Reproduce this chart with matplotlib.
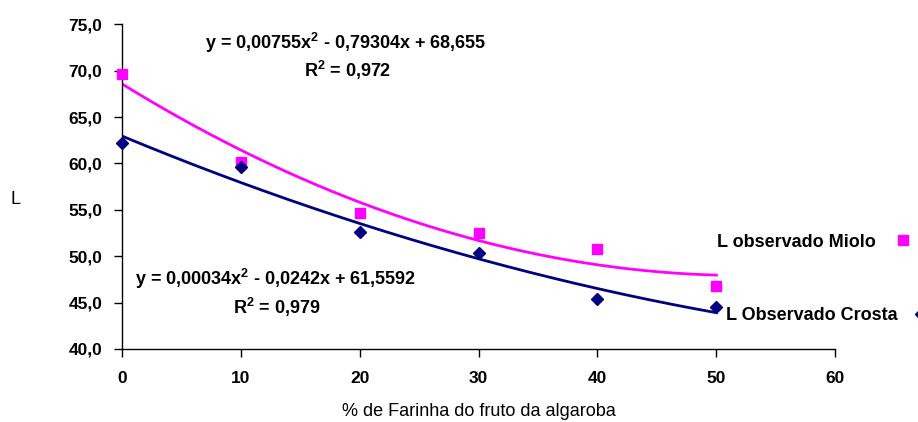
import numpy as np
import matplotlib
matplotlib.use("Agg")
import matplotlib.pyplot as plt

plt.rcParams['font.family'] = ['Liberation Sans', 'DejaVu Sans']
plt.rcParams['mathtext.fontset'] = 'custom'
plt.rcParams['mathtext.rm'] = 'Liberation Sans'
plt.rcParams['mathtext.bf'] = 'Liberation Sans:bold'

x_vals = [0, 10, 20, 30, 40, 50]
miolo = [69.6, 60.2, 54.7, 52.5, 50.8, 46.8]
crosta = [62.2, 59.6, 52.6, 50.3, 45.4, 44.5]
x_ticks = [0, 10, 20, 30, 40, 50, 60]
y_ticks = [40, 45, 50, 55, 60, 65, 70, 75]
eq_miolo = r"y = 0,00755x$^{\mathbf{2}}$ - 0,79304x + 68,655"
r2_miolo = r"R$^{\mathbf{2}}$ = 0,972"
eq_crosta = r"y = 0,00034x$^{\mathbf{2}}$ - 0,0242x + 61,5592"
r2_crosta = r"R$^{\mathbf{2}}$ = 0,979"
lab_miolo = "L observado Miolo"
lab_crosta = "L Observado Crosta"

MAG = '#FF00FF'
NAVY = '#000080'
FS = 12.5
FT = 13

fig = plt.figure(figsize=(9.18, 4.22), dpi=100)
ax = fig.add_axes([0.1326, 0.173, 0.7774, 0.7694])

xs = np.linspace(0, 50, 200)
pm = np.polyfit(x_vals, miolo, 2)
pc = np.polyfit(x_vals, crosta, 2)
ax.plot(xs, np.polyval(pm, xs), color=MAG, lw=2.0, zorder=2)
ax.plot(xs, np.polyval(pc, xs), color=NAVY, lw=2.0, zorder=2)
hm, = ax.plot(x_vals, miolo, 's', color=MAG, ms=7, ls='none', clip_on=False, zorder=3)
hc, = ax.plot(x_vals, crosta, 'D', color=NAVY, ms=6.5, ls='none', clip_on=False, zorder=3)

ax.set_xlim(0, 60)
ax.set_ylim(40, 75)
ax.set_xticks(x_ticks)
ax.set_yticks(y_ticks)
ax.set_xticklabels([str(v) for v in x_ticks], fontweight='bold', fontsize=FS)
ax.set_yticklabels([f"{v:.1f}".replace('.', ',') for v in y_ticks], fontweight='bold', fontsize=FS)
for s in ['top', 'right']:
    ax.spines[s].set_visible(False)
for s in ['left', 'bottom']:
    ax.spines[s].set_linewidth(1.0)
ax.tick_params(axis='both', direction='out', length=6, width=1.0)
ax.tick_params(axis='x', pad=10)
ax.tick_params(axis='y', pad=8)

ax.set_xlabel("% de Farinha do fruto da algaroba", fontsize=FT, labelpad=12)
fig.text(15/918, 1 - 200/422, "L", fontsize=FT, ha='center', va='center')

fig.text(346/918, 1 - 43/422, eq_miolo, fontsize=FT, fontweight='bold', ha='center', va='center')
fig.text(348/918, 1 - 70/422, r2_miolo, fontsize=FT, fontweight='bold', ha='center', va='center')
fig.text(275/918, 1 - 279/422, eq_crosta, fontsize=FT, fontweight='bold', ha='center', va='center')
fig.text(277/918, 1 - 307/422, r2_crosta, fontsize=FT, fontweight='bold', ha='center', va='center')

leg1 = fig.legend([hm], [lab_miolo], loc='center left', bbox_to_anchor=(717/918, 1 - 242/422),
                  frameon=False, markerfirst=False, borderpad=0, borderaxespad=0,
                  handlelength=1.0, handletextpad=1.0, prop={'weight': 'bold', 'size': FT})
leg2 = fig.legend([hc], [lab_crosta], loc='center left', bbox_to_anchor=(726/918, 1 - 316/422),
                  frameon=False, markerfirst=False, borderpad=0, borderaxespad=0,
                  handlelength=1.0, handletextpad=0.8, prop={'weight': 'bold', 'size': FT})

fig.savefig("out.png", dpi=100)
